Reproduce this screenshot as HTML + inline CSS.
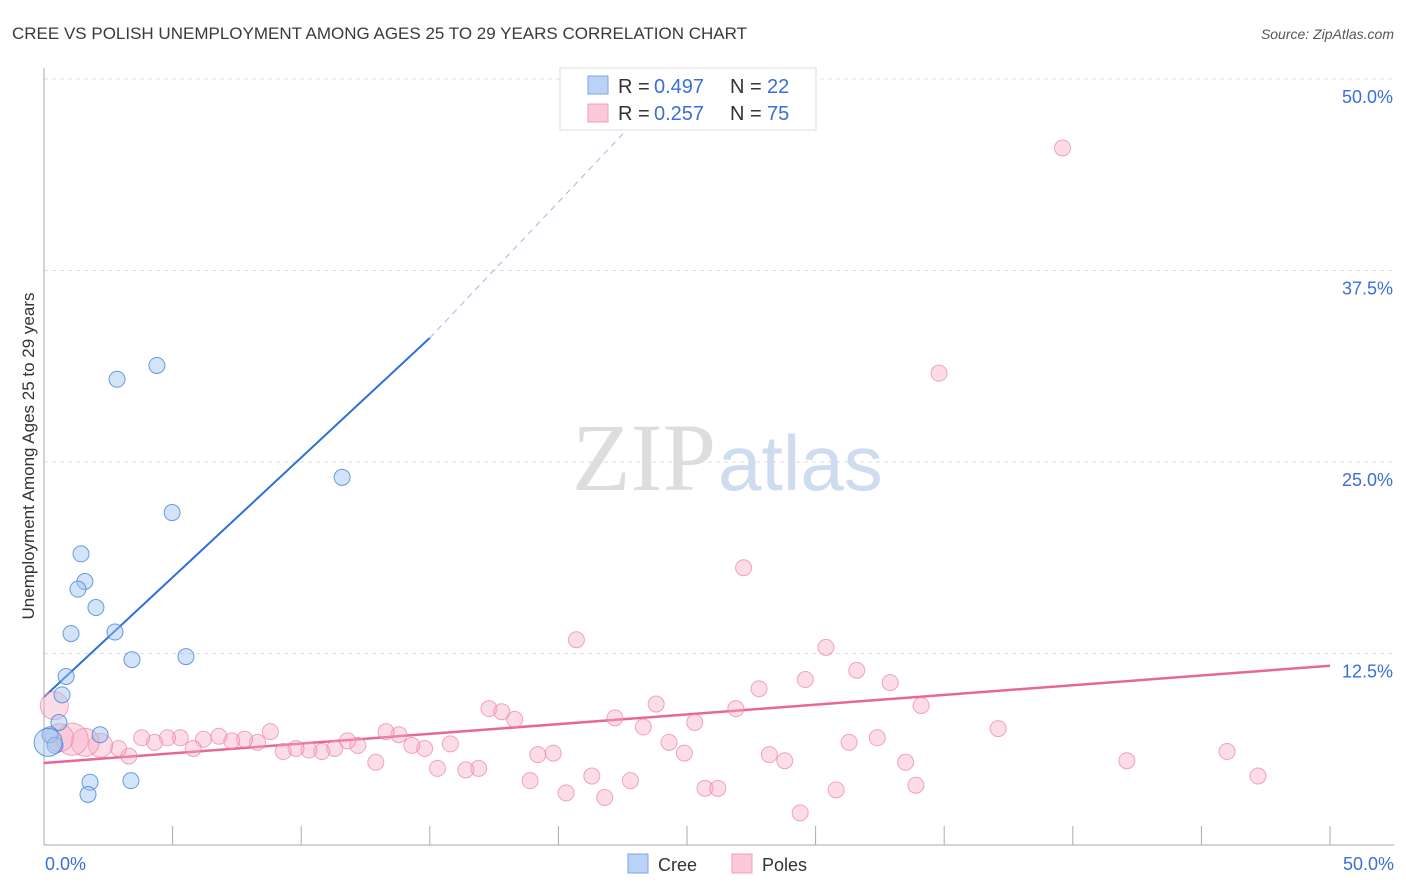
<!DOCTYPE html>
<html><head><meta charset="utf-8"><style>
body{margin:0;background:#fff;font-family:"Liberation Sans",sans-serif;}
svg{display:block}
</style></head><body>
<svg id="chart" width="1406" height="892">
<text x="12" y="39" font-size="17" fill="#3a3a3a">CREE VS POLISH UNEMPLOYMENT AMONG AGES 25 TO 29 YEARS CORRELATION CHART</text>
<text x="1394" y="39" font-size="14" fill="#555" font-style="italic" text-anchor="end">Source: ZipAtlas.com</text>
<text x="716" y="490" font-size="96" fill="#ddd" font-family="Liberation Serif,serif" text-anchor="end">ZIP</text>
<text x="718" y="490" font-size="78" fill="#cfdcf0">atlas</text>
<g id="grid"></g><g id="axes"></g><g id="lines"></g><g id="pts"></g>
<text transform="translate(34,456) rotate(-90)" font-size="17" fill="#333" text-anchor="middle">Unemployment Among Ages 25 to 29 years</text>
<text x="45" y="870" font-size="18" fill="#3a6fd8">0.0%</text>
<text x="1394" y="870" font-size="18" fill="#3a6fd8" text-anchor="end">50.0%</text>
<g>
<rect x="560" y="68" width="256" height="62" fill="#fff" stroke="#ddd"/>
<rect x="588" y="76" width="20" height="18" fill="#b9d2f5" stroke="#7aa6e6"/>
<rect x="588" y="104" width="20" height="18" fill="#fbc9d8" stroke="#f0a0b8"/>
<text y="93" font-size="20" fill="#333"><tspan x="618">R =</tspan><tspan x="654" fill="#3a6fd8">0.497</tspan><tspan x="730">N =</tspan><tspan x="767" fill="#3a6fd8">22</tspan></text>
<text y="120" font-size="20" fill="#333"><tspan x="618">R =</tspan><tspan x="654" fill="#3a6fd8">0.257</tspan><tspan x="730">N =</tspan><tspan x="767" fill="#3a6fd8">75</tspan></text>
</g>
<g>
<rect x="628" y="854" width="20" height="19" fill="#b9d2f5" stroke="#7aa6e6"/>
<text x="658" y="871" font-size="18" fill="#333">Cree</text>
<rect x="732" y="854" width="20" height="19" fill="#fbc9d8" stroke="#f0a0b8"/>
<text x="762" y="871" font-size="18" fill="#333">Poles</text>
</g>
</svg>
<script>
const yTicks=[12.5,25,37.5,50];
const yTickLabels=["12.5%","25.0%","37.5%","50.0%"];
const creeX=[2.84,4.39,4.98,11.59,1.44,1.59,1.32,2.02,1.05,2.76,3.42,5.52,0.86,0.70,0.58,0.23,0.43,2.18,1.79,3.38,1.71,0.16];
const creeY=[30.4,31.3,21.7,24.0,19.0,17.2,16.7,15.5,13.8,13.9,12.1,12.3,11.0,9.8,8.0,7.2,6.5,7.2,4.1,4.2,3.3,6.7];
const creeR=[8,8,8,8,8,8,8,8,8,8,8,8,8,8,8,8,8,8,8,8,8,14];
const polesX=[39.6,34.8,27.2,20.7,30.4,31.6,29.6,32.9,27.8,23.8,34.1,17.3,17.8,18.3,22.2,26.9,25.3,23.3,37.1,32.4,24.3,24.9,28.2,28.8,31.3,33.5,33.9,30.8,29.4,25.7,26.2,22.8,21.8,21.3,20.3,19.8,19.2,18.9,16.9,16.4,15.3,15.8,14.8,14.3,13.8,13.3,12.9,12.2,11.8,11.3,10.8,10.3,9.8,9.3,8.8,8.3,7.8,7.3,6.8,6.2,5.8,5.3,4.8,4.3,3.8,3.3,2.9,2.2,1.6,1.1,0.4,42.1,46.0,47.2,0.6];
const polesY=[45.5,30.8,18.1,13.4,12.9,11.4,10.8,10.6,10.2,9.2,9.1,8.9,8.7,8.2,8.3,8.9,8.0,7.7,7.6,7.0,6.7,6.0,5.9,5.5,6.7,5.4,3.9,3.6,2.1,3.7,3.7,4.2,3.1,4.5,3.4,6.0,5.9,4.2,5.0,4.9,5.0,6.6,6.3,6.5,7.2,7.4,5.4,6.5,6.8,6.3,6.1,6.2,6.3,6.1,7.4,6.7,6.9,6.8,7.1,6.9,6.3,7.0,7.0,6.7,7.0,5.8,6.3,6.5,6.7,6.9,9.1,5.5,6.1,4.5,7.0];
const polesR=[8,8,8,8,8,8,8,8,8,8,8,8,8,8,8,8,8,8,8,8,8,8,8,8,8,8,8,8,8,8,8,8,8,8,8,8,8,8,8,8,8,8,8,8,8,8,8,8,8,8,8,8,8,8,8,8,8,8,8,8,8,8,8,8,8,8,8,12,14,16,14,8,8,8,14];
const creeLine=[0,9.66,15,33.1,24.7,50.3];
const polesLine=[0,5.35,50,11.7];
const X=v=>44+v*25.72, Y=v=>845-v*15.32;
const NS="http://www.w3.org/2000/svg";
function mk(parent,tag,attrs){const e=document.createElementNS(NS,tag);for(const k in attrs)e.setAttribute(k,attrs[k]);document.getElementById(parent).appendChild(e);return e;}
yTicks.forEach((t,i)=>{
 const l=mk('grid','line',{x1:44,x2:1394,y1:Y(t),y2:Y(t),stroke:'#ddd','stroke-dasharray':'4,4'});
 
 
 const tx=mk('grid','text',{x:1393,y:Y(t)+24,'font-size':18,fill:'#3a6fd8','text-anchor':'end'});
 tx.textContent=yTickLabels[i];
 
 
});
let a=mk('axes','line',{x1:44,x2:44,y1:68,y2:845,stroke:'#aaa'});


a=mk('axes','line',{x1:44,x2:1394,y1:845,y2:845,stroke:'#aaa'});


for(let i=1;i<=10;i++){const t=mk('axes','line',{x1:X(i*5),x2:X(i*5),y1:826,y2:845,stroke:'#aaa'});
 
 }
let ln=mk('lines','line',{x1:X(creeLine[0]),y1:Y(creeLine[1]),x2:X(creeLine[2]),y2:Y(creeLine[3]),stroke:'#2f6fd8','stroke-width':2});


ln=mk('lines','line',{x1:X(creeLine[2]),y1:Y(creeLine[3]),x2:X(creeLine[4]),y2:Y(creeLine[5]),stroke:'#9bb8e6','stroke-width':1,'stroke-dasharray':'6,5'});


ln=mk('lines','line',{x1:X(polesLine[0]),y1:Y(polesLine[1]),x2:X(polesLine[2]),y2:Y(polesLine[3]),stroke:'#e8679a','stroke-width':2.5});


polesX.forEach((v,i)=>{const c=mk('pts','circle',{cx:X(v),cy:Y(polesY[i]),r:polesR[i],fill:'rgba(248,170,195,0.4)',stroke:'rgba(235,130,165,0.7)'});
 
 });
creeX.forEach((v,i)=>{const c=mk('pts','circle',{cx:X(v),cy:Y(creeY[i]),r:creeR[i],fill:'rgba(160,195,240,0.45)',stroke:'rgba(70,130,220,0.8)'});
 
 });
</script>
</body></html>
